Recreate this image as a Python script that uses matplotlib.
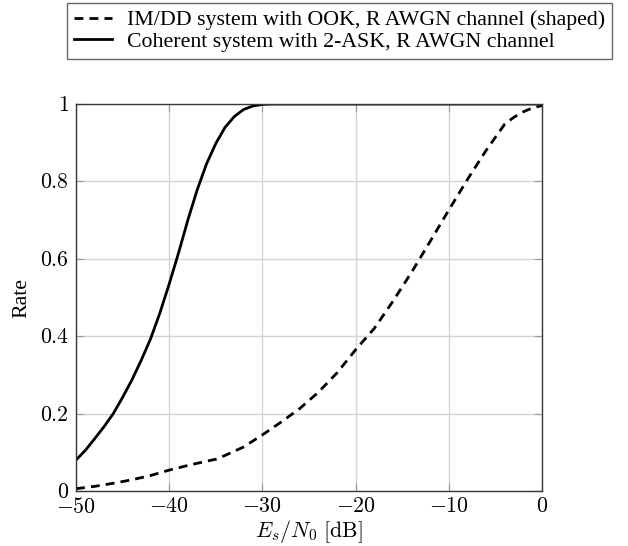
import matplotlib
matplotlib.use("Agg")
import matplotlib.pyplot as plt

plt.rcParams['font.family'] = ['Liberation Serif', 'DejaVu Serif']
plt.rcParams['mathtext.fontset'] = 'cm'

# Кривые
snr_ook = [-50, -48, -46, -44, -42, -40, -38, -36, -35, -34, -32, -30, -28, -26,
           -24, -22, -20, -18, -16, -14, -12, -10, -8, -6, -4, -3, -2, -1, 0]
rate_ook = [0.006, 0.012, 0.020, 0.029, 0.040, 0.054, 0.066, 0.077, 0.082, 0.092,
            0.114, 0.145, 0.178, 0.213, 0.255, 0.305, 0.365, 0.42, 0.49, 0.565,
            0.645, 0.726, 0.805, 0.88, 0.948, 0.966, 0.98, 0.99, 0.996]

snr_ask = [-50, -49, -48, -47, -46, -45, -44, -43, -42, -41, -40, -39, -38, -37,
           -36, -35, -34, -33, -32, -31, -30, -29, -28, -20, -10, 0]
rate_ask = [0.080, 0.105, 0.135, 0.166, 0.200, 0.242, 0.287, 0.338, 0.393, 0.460,
            0.535, 0.615, 0.700, 0.778, 0.845, 0.898, 0.940, 0.968, 0.986, 0.995,
            0.999, 1.0, 1.0, 1.0, 1.0, 1.0]

labels = ["IM/DD system with OOK, R AWGN channel (shaped)",
          "Coherent system with 2-ASK, R AWGN channel"]
xticks = [-50, -40, -30, -20, -10, 0]
yticks = [0, 0.2, 0.4, 0.6, 0.8, 1]

fs = 15.75

fig = plt.figure(figsize=(6.28, 5.46), dpi=100)
ax = fig.add_axes([76 / 628, 1 - 491 / 546, 466 / 628, 387 / 546])

l1, = ax.plot(snr_ook, rate_ook, color="black", lw=2, ls=(0, (3.2, 2.2)))
l2, = ax.plot(snr_ask, rate_ask, color="black", lw=2)

ax.set_xlim(-50, 0)
ax.set_ylim(0, 1)
ax.set_xticks(xticks)
ax.set_xticklabels([f"${v}$" for v in xticks])
ax.set_yticks(yticks)
ax.set_yticklabels([f"${v:g}$" for v in yticks])
ax.grid(True, color="#d4d4d4", lw=1)
ax.tick_params(direction="in", length=6, color="#9a9a9a", labelsize=fs,
               top=True, right=True, pad=5)
for s in ax.spines.values():
    s.set_color("#383838")
    s.set_linewidth(1)

ax.set_xlabel(r"$E_s/N_0\ \mathrm{[dB]}$", fontsize=fs, labelpad=0)
ax.set_ylabel("Rate", fontsize=fs, labelpad=6)

leg = fig.legend([l1, l2], labels, loc="upper left",
                 bbox_to_anchor=(67 / 628, 1 - 3 / 546), fontsize=fs,
                 frameon=True, fancybox=False, edgecolor="#404040",
                 handlelength=1.75, handletextpad=0.68, labelspacing=0.05,
                 borderpad=0.32, borderaxespad=0)
leg.get_frame().set_linewidth(1)

fig.savefig("out.png", dpi=100)
